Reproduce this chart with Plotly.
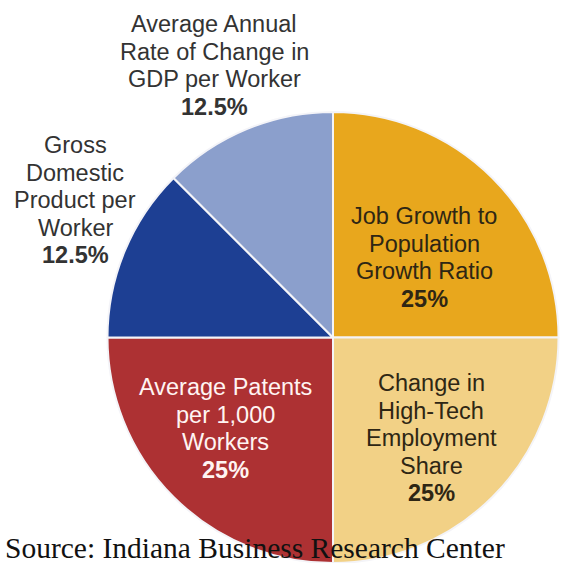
import plotly.graph_objects as go

# ---- data ----
categories = [
    "Job Growth to<br>Population<br>Growth Ratio",
    "Change in<br>High-Tech<br>Employment<br>Share",
    "Average Patents<br>per 1,000<br>Workers",
    "Gross<br>Domestic<br>Product per<br>Worker",
    "Average Annual<br>Rate of Change in<br>GDP per Worker",
]
weights = [25, 25, 25, 12.5, 12.5]
pct_labels = ["25%", "25%", "25%", "12.5%", "12.5%"]
source_text = "Source: Indiana Business Research Center"

# ---- styles ----
colors = ["#E8A71D", "#F2D186", "#AD3133", "#1D3F93", "#8B9FCC"]
text_colors = ["#2e2614", "#2e2614", "#FFF4F2", "#333333", "#333333"]
# first line centre (x, y) in pixels and line spacing
label_pos = [(424, 216), (431, 383), (225, 387), (75, 145), (214, 24)]
line_step = 27.6

W, H = 564, 563
cx, cy, r = 333, 339, 227

fig = go.Figure()
fig.add_trace(go.Pie(
    labels=[c.replace("<br>", " ") for c in categories],
    values=weights,
    sort=False,
    direction="clockwise",
    rotation=0,
    marker=dict(colors=colors, line=dict(color="#F4F4F8", width=2)),
    textinfo="none",
    hoverinfo="label+percent",
    showlegend=False,
    domain=dict(x=[(cx - r) / W, (cx + r) / W], y=[0, (H - cy + r) / H]),
))

annotations = []
for cat, pct, (px, py), tc in zip(categories, pct_labels, label_pos, text_colors):
    lines = cat.split("<br>") + ["<b>" + pct + "</b>"]
    for i, ln in enumerate(lines):
        annotations.append(dict(
            text=ln, x=px / W, y=1 - (py + i * line_step) / H,
            xref="paper", yref="paper", xanchor="center", yanchor="middle",
            showarrow=False,
            font=dict(family="Liberation Sans, Arial, sans-serif", size=23.5, color=tc),
        ))

annotations.append(dict(
    text=source_text, x=3 / W, y=1 - 548 / H,
    xref="paper", yref="paper", xanchor="left", yanchor="middle",
    showarrow=False,
    font=dict(family="Liberation Serif, Times New Roman, serif", size=29.5, color="#111111"),
))

fig.update_layout(
    width=W, height=H,
    margin=dict(l=0, r=0, t=0, b=0),
    paper_bgcolor="white", plot_bgcolor="white",
    annotations=annotations,
)

fig.write_html(
    "out.html",
    config={"displayModeBar": False},
    post_script="document.body.style.margin='0';document.body.style.overflow='hidden';",
)
